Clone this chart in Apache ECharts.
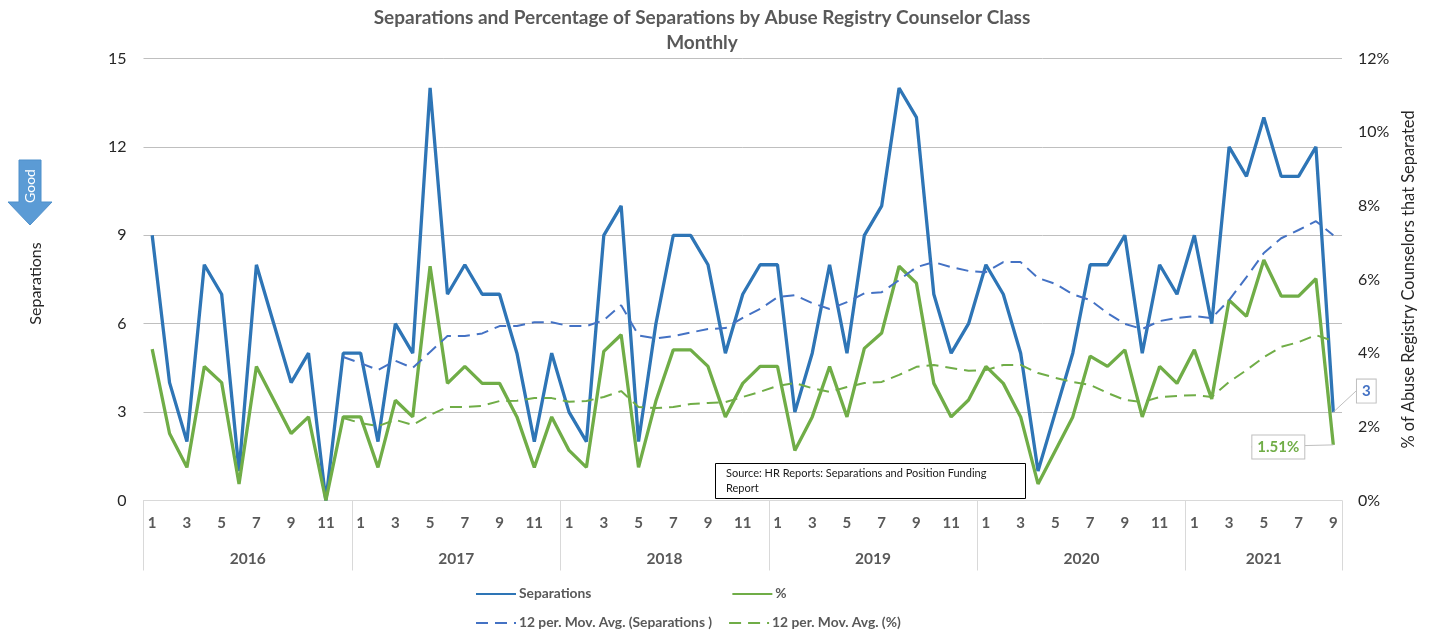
<!DOCTYPE html>
<html><head><meta charset="utf-8">
<style>html,body{margin:0;padding:0;background:#fff}#c{width:1429px;height:637px}</style>
<script src="https://cdn.jsdelivr.net/npm/echarts@6/dist/echarts.min.js"></script>
</head><body><div id="c"></div>
<script>
const months = [1,2,3,4,5,6,7,8,9,10,11,12,1,2,3,4,5,6,7,8,9,10,11,12,1,2,3,4,5,6,7,8,9,10,11,12,1,2,3,4,5,6,7,8,9,10,11,12,1,2,3,4,5,6,7,8,9,10,11,12,1,2,3,4,5,6,7,8,9];
const years = ['2016','2017','2018','2019','2020','2021'];
const yearCenters = [6,18,30,42,54,64.5];
const yearEdges = [0,12,24,36,48,60,69];
const separations = [9,4,2,8,7,1,8,6,4,5,0,5, 5,2,6,5,14,7,8,7,7,5,2,5, 3,2,9,10,2,6,9,9,8,5,7,8, 8,3,5,8,5,9,10,14,13,7,5,6, 8,7,5,1,3,5,8,8,9,5,8,7, 9,6,12,11,13,11,11,12,3];
const percent = [4.11,1.82,0.9,3.64,3.2,0.45,3.64,2.73,1.82,2.27,0,2.27, 2.27,0.9,2.72,2.27,6.36,3.18,3.64,3.18,3.18,2.27,0.9,2.27, 1.36,0.9,4.05,4.5,0.9,2.7,4.09,4.09,3.64,2.27,3.18,3.64, 3.64,1.36,2.27,3.64,2.27,4.13,4.55,6.36,5.9,3.18,2.27,2.73, 3.64,3.18,2.27,0.45,1.36,2.27,3.92,3.64,4.09,2.27,3.64,3.18, 4.09,2.76,5.44,5.0,6.53,5.55,5.55,6.02,1.51];
const maSeparations = [null,null,null,null,null,null,null,null,null,null,null,4.87, 4.66,4.43,4.74,4.5,5.04,5.58,5.58,5.67,5.92,5.92,6.05,6.05, 5.92,5.92,6.12,6.63,5.6,5.5,5.58,5.7,5.82,5.85,6.2,6.5, 6.9,6.97,6.7,6.5,6.73,7.03,7.07,7.48,7.92,8.09,7.92,7.79, 7.75,8.09,8.09,7.55,7.35,7.0,6.8,6.36,5.99,5.82,6.09,6.19, 6.26,6.19,6.8,7.58,8.4,8.9,9.18,9.48,9.0];
const maPercent = [null,null,null,null,null,null,null,null,null,null,null,2.24, 2.1,2.02,2.19,2.05,2.32,2.54,2.54,2.57,2.7,2.71,2.78,2.78, 2.68,2.7,2.81,2.97,2.54,2.51,2.54,2.62,2.65,2.67,2.81,2.95, 3.11,3.19,3.05,2.95,3.08,3.19,3.22,3.41,3.63,3.68,3.6,3.52, 3.54,3.68,3.68,3.46,3.33,3.22,3.14,2.92,2.73,2.67,2.81,2.84, 2.86,2.81,3.22,3.54,3.89,4.17,4.3,4.49,4.33];

const FONT = 'Lato, "Open Sans", sans-serif';
const LAST = separations.length - 1;
function callout(arr, fmt, color) {
  return arr.map((v, i) => i !== LAST ? v : {
    value: v,
    label: {show: true, position: 'inside', formatter: fmt, color, fontFamily: FONT, fontWeight: 'bold', fontSize: 15,
      backgroundColor: '#fff', borderColor: '#bfbfbf', borderWidth: 1, padding: [4, 5]},
    labelLine: {show: true, lineStyle: {color: '#bfbfbf', width: 1}}
  });
}
const chart = echarts.init(document.getElementById('c'));
const common = {type: 'line', showSymbol: true, showAllSymbol: true, symbol: 'circle', symbolSize: 0, smooth: false, connectNulls: false, silent: true};
const legendText = {fontFamily: FONT, fontSize: 13.8, fontWeight: 'bold', color: '#595959', padding: [0,0,0,-2]};
const hideSym = {opacity: 0, borderWidth: 0};
chart.setOption({
  animation: false,
  backgroundColor: '#fff',
  textStyle: {fontFamily: FONT},
  title: {
    text: 'Separations and Percentage of Separations by Abuse Registry Counselor Class\nMonthly',
    left: 697, top: 0, textAlign: 'center',
    textStyle: {fontFamily: FONT, fontSize: 19, fontWeight: 'bold', color: '#595959', lineHeight: 25}
  },
  legend: [
    {left: 475, top: 587, padding: 0, data: ['Separations', '%'], itemWidth: 40, itemHeight: 14, itemGap: 140, itemStyle: hideSym, textStyle: legendText},
    {left: 475, top: 616, padding: 0, data: ['12 per. Mov. Avg. (Separations )', '12 per. Mov. Avg. (%)'], itemWidth: 40, itemHeight: 14, itemGap: 16, itemStyle: hideSym, textStyle: legendText}
  ],
  grid: {left: 143.5, right: 87, top: 58.5, bottom: 136.5},
  xAxis: [
    {type: 'category', data: months, boundaryGap: true, position: 'bottom',
     axisLine: {lineStyle: {color: '#d9d9d9', width: 1}}, axisTick: {show: false},
     axisLabel: {interval: 1, margin: 15, color: '#595959', fontFamily: FONT, fontSize: 15, fontWeight: 'bold'},
     splitLine: {show: false}},
    {type: 'value', min: 0, max: 69, position: 'bottom',
     axisLine: {show: false},
     axisTick: {show: true, customValues: yearEdges, length: 70, inside: false, lineStyle: {color: '#d9d9d9', width: 1}},
     axisLabel: {customValues: yearCenters, formatter: v => years[yearCenters.indexOf(v)], margin: 50, color: '#595959', fontFamily: FONT, fontSize: 15.5, fontWeight: 'bold', showMinLabel: true, showMaxLabel: true},
     splitLine: {show: false}}
  ],
  yAxis: [
    {type: 'value', min: 0, max: 15, interval: 3, name: 'Separations', nameLocation: 'middle', nameGap: 100, nameRotate: 90,
     nameTextStyle: {fontFamily: FONT, fontSize: 16, color: '#262626', padding: [0,0,0,-8]},
     axisLine: {show: false}, axisTick: {show: false},
     axisLabel: {margin: 17, color: '#262626', fontFamily: FONT, fontSize: 16},
     splitLine: {show: true, lineStyle: {color: '#bfbfbf', width: 1}}},
    {type: 'value', min: 0, max: 12, interval: 2, position: 'right', name: '% of Abuse Registry Counselors that Separated', nameLocation: 'middle', nameGap: 56, nameRotate: 90,
     nameTextStyle: {fontFamily: FONT, fontSize: 16.4, color: '#262626'},
     axisLine: {show: false}, axisTick: {show: false},
     axisLabel: {margin: 16, color: '#262626', fontFamily: FONT, fontSize: 16, formatter: '{value}%'},
     splitLine: {show: false}}
  ],
  series: [
    {...common, name: 'Separations', yAxisIndex: 0, data: callout(separations, '3', '#4472c4'),
     lineStyle: {color: '#2e75b6', width: 3.3}, itemStyle: {color: '#2e75b6'}, labelLayout: {dx: 33, dy: -21}, z: 2},
    {...common, name: '%', yAxisIndex: 1, data: callout(percent, '1.51%', '#70ad47'),
     lineStyle: {color: '#70ad47', width: 3.3}, itemStyle: {color: '#70ad47'}, labelLayout: {dx: -55, dy: 2}, z: 3},
    {...common, name: '12 per. Mov. Avg. (Separations )', yAxisIndex: 0, data: maSeparations,
     lineStyle: {color: '#4472c4', width: 2, type: [12, 7]}, itemStyle: {color: '#4472c4'}, z: 4},
    {...common, name: '12 per. Mov. Avg. (%)', yAxisIndex: 1, data: maPercent,
     lineStyle: {color: '#70ad47', width: 2, type: [12, 7]}, itemStyle: {color: '#70ad47'}, z: 4}
  ],
  graphic: [
    {type: 'polygon', shape: {points: [[19,160],[41,160],[41,202],[52,202],[30,225],[8,202],[19,202]]},
     style: {fill: '#5b9bd5', stroke: '#4f90cb', lineWidth: 1}, z: 10},
    {type: 'text', x: 30, y: 186, rotation: Math.PI / 2, style: {text: 'Good', fill: '#fff', font: '14px ' + FONT, textAlign: 'center', textVerticalAlign: 'middle'}, z: 11},
    {type: 'rect', shape: {x: 715.5, y: 463.5, width: 310, height: 35}, style: {fill: '#fff', stroke: '#000', lineWidth: 1}, z: 10},
    {type: 'text', x: 726, y: 466, style: {text: 'Source: HR Reports: Separations and Position Funding\nReport', fill: '#1a1a1a', font: '11px ' + FONT, lineHeight: 15}, z: 11}
  ]
});
</script></body></html>
